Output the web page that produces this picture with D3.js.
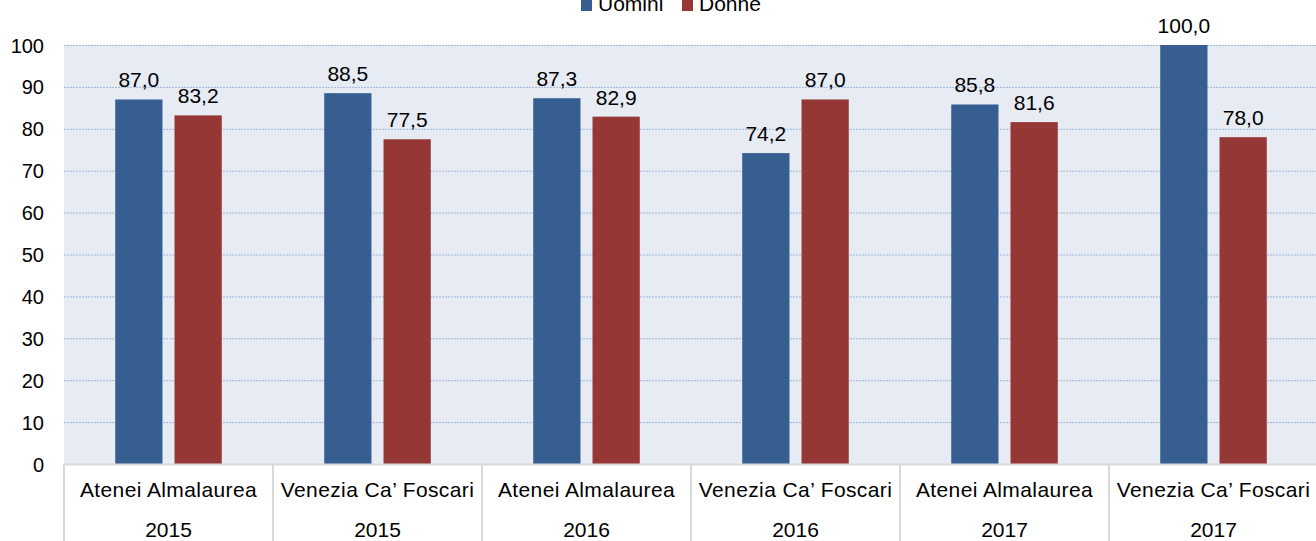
<!DOCTYPE html>
<html>
<head>
<meta charset="utf-8">
<script src="https://cdn.jsdelivr.net/npm/d3@7"></script>
<style>
  body { margin: 0; background: #fff; }
  svg { display: block; font-family: "Liberation Sans", Arial, sans-serif; }
</style>
</head>
<body>
<div class="root"></div>
<script>
var width = 1316,
    height = 541,
    margin = {top: 45, left: 64, bottom: 77},
    plotRight = 1318;

var categories = ["Atenei Almalaurea", "Venezia Ca\u2019 Foscari", "Atenei Almalaurea", "Venezia Ca\u2019 Foscari", "Atenei Almalaurea", "Venezia Ca\u2019 Foscari"];
var years = ["2015", "2015", "2016", "2016", "2017", "2017"];
var series = ["Uomini", "Donne"];
var uomini = [87.0, 88.5, 87.3, 74.2, 85.8, 100.0];
var donne = [83.2, 77.5, 82.9, 87.0, 81.6, 78.0];
var yTicks = [0, 10, 20, 30, 40, 50, 60, 70, 80, 90, 100];
var colors = ["#375e90", "#953735"];

var rows = categories.map(function (c, i) {
  return {i: i, cat: c, year: years[i], values: [uomini[i], donne[i]]};
});

var svg = d3.select(".root")
  .append("svg")
  .attr("width", width)
  .attr("height", height);

var plotBottom = height - margin.bottom;

var x = d3.scaleBand()
  .domain(d3.range(categories.length))
  .range([margin.left, plotRight])
  .padding(0);

var xs = d3.scaleBand()
  .domain(series)
  .range([0, x.bandwidth()])
  .paddingInner(0.203)
  .paddingOuter(0.864);

var y = d3.scaleLinear()
  .domain([0, 100])
  .range([plotBottom, margin.top]);

// plot background
svg.append("rect")
  .attr("x", margin.left)
  .attr("y", margin.top)
  .attr("width", plotRight - margin.left)
  .attr("height", plotBottom - margin.top)
  .attr("fill", "#e7ebf4");

// gridlines
svg.append("g")
  .selectAll("line")
  .data(yTicks.filter(function (d) { return d > 0; }))
  .enter().append("line")
  .attr("x1", margin.left)
  .attr("x2", plotRight)
  .attr("y1", function (d) { return y(d) + 0.5; })
  .attr("y2", function (d) { return y(d) + 0.5; })
  .attr("stroke", "#9fb8dc")
  .attr("stroke-width", 1)
  .attr("stroke-dasharray", "2,1");

// y axis labels
var yAxis = svg.append("g")
  .attr("transform", "translate(" + (margin.left - 20) + ",0)")
  .call(d3.axisLeft(y).tickValues(yTicks).tickSize(0).tickPadding(0));
yAxis.select(".domain").remove();
yAxis.selectAll("text")
  .attr("font-family", "Liberation Sans, Arial, sans-serif")
  .attr("font-size", 20)
  .attr("fill", "#000")
  .attr("dy", "0.35em");

// bars
var groups = svg.append("g")
  .selectAll("g")
  .data(rows)
  .enter().append("g")
  .attr("transform", function (d) { return "translate(" + x(d.i) + ",0)"; });

groups.selectAll("rect")
  .data(function (d) { return d.values.map(function (v, k) { return {s: series[k], k: k, v: v}; }); })
  .enter().append("rect")
  .attr("x", function (d) { return xs(d.s); })
  .attr("width", xs.bandwidth())
  .attr("y", function (d) { return y(d.v); })
  .attr("height", function (d) { return y(0) - y(d.v); })
  .attr("fill", function (d) { return colors[d.k]; });

groups.selectAll("text")
  .data(function (d) { return d.values.map(function (v, k) { return {s: series[k], k: k, v: v}; }); })
  .enter().append("text")
  .attr("x", function (d) { return xs(d.s) + xs.bandwidth() / 2; })
  .attr("y", function (d) { return y(d.v) - 12; })
  .attr("text-anchor", "middle")
  .attr("font-size", 21)
  .attr("fill", "#000")
  .text(function (d) { return d.v.toFixed(1).replace(".", ","); });

// category axis
svg.append("line")
  .attr("x1", margin.left)
  .attr("x2", plotRight)
  .attr("y1", plotBottom + 0.5)
  .attr("y2", plotBottom + 0.5)
  .attr("stroke", "#d9d9d9")
  .attr("stroke-width", 2);

svg.append("g")
  .selectAll("line")
  .data(d3.range(categories.length + 1))
  .enter().append("line")
  .attr("x1", function (d) { return margin.left + d * x.step(); })
  .attr("x2", function (d) { return margin.left + d * x.step(); })
  .attr("y1", plotBottom)
  .attr("y2", height)
  .attr("stroke", "#d9d9d9")
  .attr("stroke-width", 2);

var labels = svg.append("g")
  .selectAll("g")
  .data(rows)
  .enter().append("g")
  .attr("transform", function (d) { return "translate(" + (x(d.i) + x.bandwidth() / 2) + ",0)"; });

labels.append("text")
  .attr("y", 497)
  .attr("text-anchor", "middle")
  .attr("font-size", 21)
  .attr("letter-spacing", 0.4)
  .attr("fill", "#000")
  .text(function (d) { return d.cat; });

labels.append("text")
  .attr("y", 537)
  .attr("text-anchor", "middle")
  .attr("font-size", 21)
  .attr("fill", "#000")
  .text(function (d) { return d.year; });

// legend
var legend = svg.append("g")
  .selectAll("g")
  .data(series)
  .enter().append("g")
  .attr("transform", function (d, i) { return "translate(" + (581 + i * 101) + ",0)"; });

legend.append("rect")
  .attr("x", 0)
  .attr("y", -1)
  .attr("width", 11)
  .attr("height", 12)
  .attr("fill", function (d, i) { return colors[i]; });

legend.append("text")
  .attr("x", 17)
  .attr("y", 11)
  .attr("font-size", 21)
  .attr("fill", "#000")
  .text(function (d) { return d; });
</script>
</body>
</html>
